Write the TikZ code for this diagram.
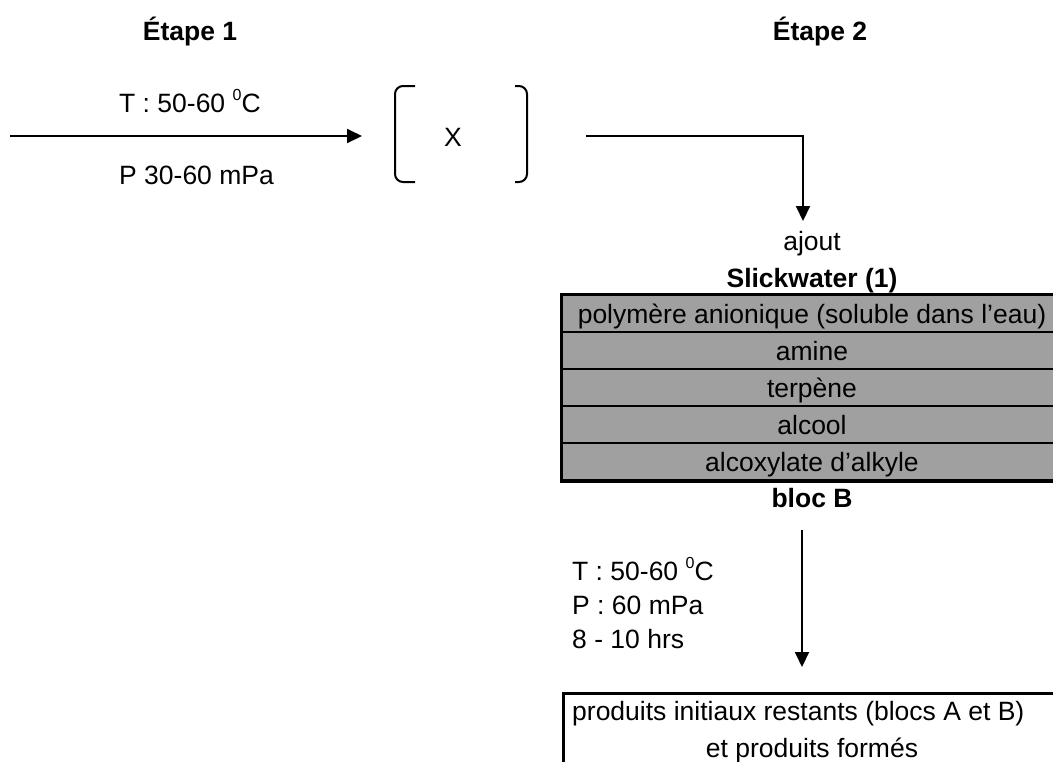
\documentclass[tikz,border=0pt]{standalone}
\usepackage{fontspec}
\setmainfont{Liberation Sans}
\usetikzlibrary{arrows.meta,positioning}
\definecolor{rowgray}{HTML}{A0A0A0}
\newcommand{\degz}{\raisebox{0.42em}{\fontsize{16}{16}\selectfont 0}}

\begin{document}
\begin{tikzpicture}[x=1pt, y=-1pt,
  font=\fontsize{26.5}{32}\selectfont,
  txt/.style={anchor=base, inner sep=0pt},
  head/.style={txt, font=\fontsize{26.5}{32}\selectfont\bfseries},
  arrow/.style={-{Triangle[length=15pt, width=14pt]}, line width=2pt},
  bracket/.style={line width=2pt, rounded corners=8pt},
  row/.style={draw, line width=2pt, fill=rowgray, minimum width=500pt, minimum height=37pt, text height=24pt, text depth=5pt, inner sep=0pt}
]
\useasboundingbox (0,0) rectangle (1053,761);
\clip (0,0) rectangle (1053,761);

% Stage headers
\node[head] (stage1) at (190,40) {Étape 1};
\node[head] (stage2) at (820,40) {Étape 2};

% Step 1: towards the intermediate X
\coordinate (feed) at (10,136);
\coordinate (feedend) at (362,136);
\draw[arrow] (feed) -- (feedend);
\node[txt, anchor=base west] (cond1T) at (119,112) {T : 50-60 \degz C};
\node[txt, anchor=base west] (cond1P) at (119,184) {P 30-60 mPa};

\node (X) at (453,137) {X};
\draw[bracket] (415,86) -- (395,86) -- (395,182) -- (415,182);
\draw[bracket] (515,86) -- (527,86) -- (527,182) -- (515,182);

% Addition of the slickwater
\coordinate (out1) at (586,136);
\coordinate (addtip) at (803,221);
\draw[arrow] (out1) -| (addtip);

\node[txt] (add) at (812,250) {ajout};
\node[head] (slick) at (812,287) {Slickwater (1)};

\foreach \lbl [count=\i] in {{polymère anionique (soluble dans l’eau)}, amine, terpène, alcool, {alcoxylate d’alkyle}}
  \node[row] (r\i) at (812,276.5+37*\i) {\lbl};
\draw[line width=3pt] (r1.north west) rectangle (r5.south east);

\node[head] (blocB) at (812,507) {bloc B};

% Step 2: reaction
\coordinate (react) at (802,530);
\coordinate (reactend) at (802,667);
\draw[arrow] (react) -- (reactend);
\node[txt, anchor=base west] (cond2T) at (572,580) {T : 50-60 \degz C};
\node[txt, anchor=base west] (cond2P) at (572,614) {P : 60 mPa};
\node[txt, anchor=base west] (cond2t) at (572,648) {8 - 10 hrs};

% Products
\node[draw, line width=3pt, minimum width=520pt, minimum height=120pt, anchor=north west] (result) at (562,692) {};
\node[txt, anchor=base west] (res1) at (572,720) {produits initiaux restants (blocs A et B)};
\node[txt] (res2) at (812,757) {et produits formés};

\end{tikzpicture}
\end{document}
